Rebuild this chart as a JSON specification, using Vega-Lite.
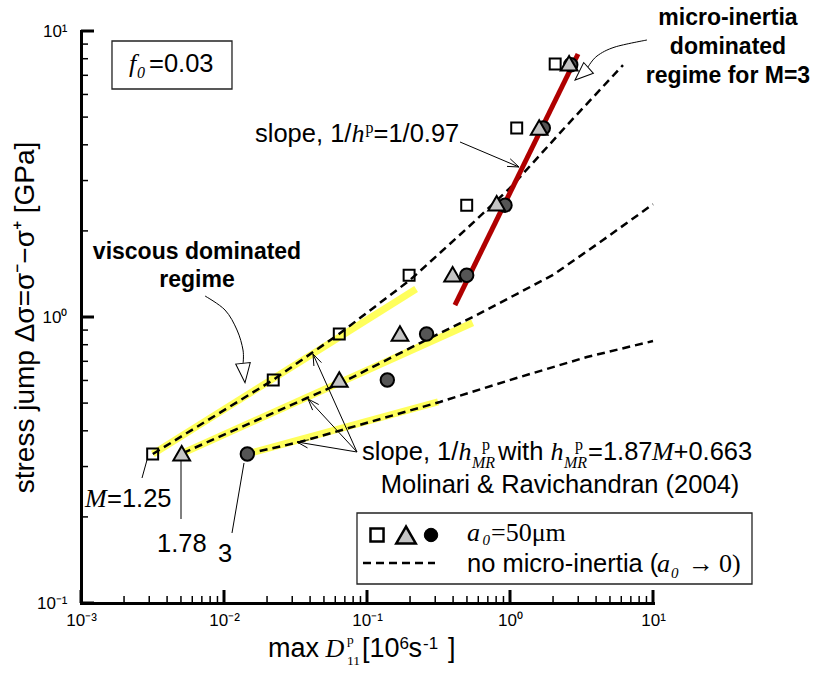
{
  "$schema": "https://vega.github.io/schema/vega-lite/v6.json",
  "width": 572,
  "height": 572,
  "autosize": {"type": "none"},
  "padding": {"left": 81, "top": 31, "right": 162, "bottom": 70},
  "background": "white",
  "config": {"view": {"stroke": null}},
  "resolve": {"axis": {"x": "independent", "y": "independent"}},
  "datasets": {
    "points": [
      {"M": "3", "x": 0.01456, "y": 0.332},
      {"M": "3", "x": 0.1387, "y": 0.602},
      {"M": "3", "x": 0.261, "y": 0.872},
      {"M": "3", "x": 0.498, "y": 1.40},
      {"M": "3", "x": 0.923, "y": 2.46},
      {"M": "3", "x": 1.71, "y": 4.58},
      {"M": "3", "x": 2.66, "y": 7.62},
      {"M": "1.78", "x": 0.00506, "y": 0.334},
      {"M": "1.78", "x": 0.064, "y": 0.605},
      {"M": "1.78", "x": 0.170, "y": 0.875},
      {"M": "1.78", "x": 0.397, "y": 1.41},
      {"M": "1.78", "x": 0.807, "y": 2.50},
      {"M": "1.78", "x": 1.60, "y": 4.60},
      {"M": "1.78", "x": 2.59, "y": 7.72},
      {"M": "1.25", "x": 0.00317, "y": 0.332},
      {"M": "1.25", "x": 0.0221, "y": 0.602},
      {"M": "1.25", "x": 0.064, "y": 0.872},
      {"M": "1.25", "x": 0.197, "y": 1.40},
      {"M": "1.25", "x": 0.498, "y": 2.46},
      {"M": "1.25", "x": 1.114, "y": 4.58},
      {"M": "1.25", "x": 2.07, "y": 7.67}
    ],
    "noMicro": [
      {"M": "1.25", "x": 0.00318, "y": 0.332},
      {"M": "1.25", "x": 0.022, "y": 0.602},
      {"M": "1.25", "x": 0.0637, "y": 0.872},
      {"M": "1.25", "x": 0.2, "y": 1.347},
      {"M": "1.25", "x": 0.498, "y": 2.036},
      {"M": "1.25", "x": 1.016, "y": 2.848},
      {"M": "1.25", "x": 2.51, "y": 4.69},
      {"M": "1.25", "x": 6.17, "y": 7.6},
      {"M": "1.78", "x": 0.00516, "y": 0.3345},
      {"M": "1.78", "x": 0.038, "y": 0.521},
      {"M": "1.78", "x": 0.0679, "y": 0.592},
      {"M": "1.78", "x": 0.235, "y": 0.811},
      {"M": "1.78", "x": 0.551, "y": 1.0},
      {"M": "1.78", "x": 2.0, "y": 1.403},
      {"M": "1.78", "x": 4.47, "y": 1.858},
      {"M": "1.78", "x": 10, "y": 2.48},
      {"M": "3", "x": 0.01449, "y": 0.332},
      {"M": "3", "x": 0.034, "y": 0.3656},
      {"M": "3", "x": 0.3236, "y": 0.5047},
      {"M": "3", "x": 1.175, "y": 0.617},
      {"M": "3", "x": 3.45, "y": 0.7246},
      {"M": "3", "x": 10, "y": 0.824}
    ],
    "yellow": [
      {"M": "1.25", "x": 0.00318, "y": 0.332},
      {"M": "1.25", "x": 0.2205, "y": 1.253},
      {"M": "1.78", "x": 0.00516, "y": 0.3345},
      {"M": "1.78", "x": 0.548, "y": 0.955},
      {"M": "3", "x": 0.01449, "y": 0.332},
      {"M": "3", "x": 0.314, "y": 0.505}
    ],
    "red": [
      {"x": 0.412, "y": 1.101},
      {"x": 2.99, "y": 8.31}
    ],
    "majorTicks": [
      {"x": 0.001, "x2": 0.001, "y": 0.1, "y2": 0.11103},
      {"x": 0.01, "x2": 0.01, "y": 0.1, "y2": 0.11103},
      {"x": 0.1, "x2": 0.1, "y": 0.1, "y2": 0.11103},
      {"x": 1, "x2": 1, "y": 0.1, "y2": 0.11103},
      {"x": 10, "x2": 10, "y": 0.1, "y2": 0.11103},
      {"x": 0.001, "x2": 0.0012328, "y": 0.1, "y2": 0.1},
      {"x": 0.001, "x2": 0.0012328, "y": 1, "y2": 1},
      {"x": 0.001, "x2": 0.0012328, "y": 10, "y2": 10}
    ],
    "minorTicks": [
      {"x": 0.002, "x2": 0.002, "y": 0.1, "y2": 0.1058},
      {"x": 0.003, "x2": 0.003, "y": 0.1, "y2": 0.1058},
      {"x": 0.004, "x2": 0.004, "y": 0.1, "y2": 0.1058},
      {"x": 0.005, "x2": 0.005, "y": 0.1, "y2": 0.1058},
      {"x": 0.006, "x2": 0.006, "y": 0.1, "y2": 0.1058},
      {"x": 0.007, "x2": 0.007, "y": 0.1, "y2": 0.1058},
      {"x": 0.008, "x2": 0.008, "y": 0.1, "y2": 0.1058},
      {"x": 0.009, "x2": 0.009, "y": 0.1, "y2": 0.1058},
      {"x": 0.02, "x2": 0.02, "y": 0.1, "y2": 0.1058},
      {"x": 0.03, "x2": 0.03, "y": 0.1, "y2": 0.1058},
      {"x": 0.04, "x2": 0.04, "y": 0.1, "y2": 0.1058},
      {"x": 0.05, "x2": 0.05, "y": 0.1, "y2": 0.1058},
      {"x": 0.06, "x2": 0.06, "y": 0.1, "y2": 0.1058},
      {"x": 0.07, "x2": 0.07, "y": 0.1, "y2": 0.1058},
      {"x": 0.08, "x2": 0.08, "y": 0.1, "y2": 0.1058},
      {"x": 0.09, "x2": 0.09, "y": 0.1, "y2": 0.1058},
      {"x": 0.2, "x2": 0.2, "y": 0.1, "y2": 0.1058},
      {"x": 0.3, "x2": 0.3, "y": 0.1, "y2": 0.1058},
      {"x": 0.4, "x2": 0.4, "y": 0.1, "y2": 0.1058},
      {"x": 0.5, "x2": 0.5, "y": 0.1, "y2": 0.1058},
      {"x": 0.6, "x2": 0.6, "y": 0.1, "y2": 0.1058},
      {"x": 0.7, "x2": 0.7, "y": 0.1, "y2": 0.1058},
      {"x": 0.8, "x2": 0.8, "y": 0.1, "y2": 0.1058},
      {"x": 0.9, "x2": 0.9, "y": 0.1, "y2": 0.1058},
      {"x": 2, "x2": 2, "y": 0.1, "y2": 0.1058},
      {"x": 3, "x2": 3, "y": 0.1, "y2": 0.1058},
      {"x": 4, "x2": 4, "y": 0.1, "y2": 0.1058},
      {"x": 5, "x2": 5, "y": 0.1, "y2": 0.1058},
      {"x": 6, "x2": 6, "y": 0.1, "y2": 0.1058},
      {"x": 7, "x2": 7, "y": 0.1, "y2": 0.1058},
      {"x": 8, "x2": 8, "y": 0.1, "y2": 0.1058},
      {"x": 9, "x2": 9, "y": 0.1, "y2": 0.1058},
      {"x": 0.001, "x2": 0.0011194, "y": 0.2, "y2": 0.2},
      {"x": 0.001, "x2": 0.0011194, "y": 0.3, "y2": 0.3},
      {"x": 0.001, "x2": 0.0011194, "y": 0.4, "y2": 0.4},
      {"x": 0.001, "x2": 0.0011194, "y": 0.5, "y2": 0.5},
      {"x": 0.001, "x2": 0.0011194, "y": 0.6, "y2": 0.6},
      {"x": 0.001, "x2": 0.0011194, "y": 0.7, "y2": 0.7},
      {"x": 0.001, "x2": 0.0011194, "y": 0.8, "y2": 0.8},
      {"x": 0.001, "x2": 0.0011194, "y": 0.9, "y2": 0.9},
      {"x": 0.001, "x2": 0.0011194, "y": 2, "y2": 2},
      {"x": 0.001, "x2": 0.0011194, "y": 3, "y2": 3},
      {"x": 0.001, "x2": 0.0011194, "y": 4, "y2": 4},
      {"x": 0.001, "x2": 0.0011194, "y": 5, "y2": 5},
      {"x": 0.001, "x2": 0.0011194, "y": 6, "y2": 6},
      {"x": 0.001, "x2": 0.0011194, "y": 7, "y2": 7},
      {"x": 0.001, "x2": 0.0011194, "y": 8, "y2": 8},
      {"x": 0.001, "x2": 0.0011194, "y": 9, "y2": 9}
    ],
    "leaders": [
      {"x": 0.44697, "y": 4.0916, "x2": 1.156, "y2": 3.3455},
      {"x": 1.156, "y": 3.3455, "x2": 1.0032, "y2": 3.5739},
      {"x": 1.156, "y": 3.3455, "x2": 0.95285, "y2": 3.3617},
      {"x": 0.085124, "y": 0.33727, "x2": 0.041913, "y2": 0.74238},
      {"x": 0.041913, "y": 0.74238, "x2": 0.042525, "y2": 0.67401},
      {"x": 0.041913, "y": 0.74238, "x2": 0.047998, "y2": 0.69272},
      {"x": 0.085124, "y": 0.33727, "x2": 0.038674, "y2": 0.51675},
      {"x": 0.038674, "y": 0.51675, "x2": 0.041644, "y2": 0.47258},
      {"x": 0.038674, "y": 0.51675, "x2": 0.045954, "y2": 0.49437},
      {"x": 0.085124, "y": 0.33727, "x2": 0.032393, "y2": 0.36556},
      {"x": 0.032393, "y": 0.36556, "x2": 0.038364, "y2": 0.3486},
      {"x": 0.032393, "y": 0.36556, "x2": 0.039176, "y2": 0.37209},
      {"x": 0.002671, "y": 0.27357, "x2": 0.002894, "y2": 0.31623},
      {"x": 0.005004, "y": 0.31623, "x2": 0.005004, "y2": 0.19666},
      {"x": 0.011373, "y": 0.1757, "x2": 0.013801, "y2": 0.30867}
    ],
    "arcs": [
      {"id": "micro", "i": 0, "x": 9.0781, "y": 9.301},
      {"id": "micro", "i": 1, "x": 5.4238, "y": 8.7912},
      {"id": "micro", "i": 2, "x": 4.059, "y": 8.1764},
      {"id": "micro", "i": 3, "x": 3.5117, "y": 7.4838},
      {"id": "viscous", "i": 0, "x": 0.007365, "y": 1.1842},
      {"id": "viscous", "i": 1, "x": 0.010162, "y": 1.058},
      {"id": "viscous", "i": 2, "x": 0.012328, "y": 0.90064},
      {"id": "viscous", "i": 3, "x": 0.013581, "y": 0.76668},
      {"id": "viscous", "i": 4, "x": 0.013581, "y": 0.68495}
    ],
    "headMicro": [{"x": 3.1775, "y": 7.0737}],
    "headViscous": [{"x": 0.013801, "y": 0.63708}],
    "boxes": [
      {"x": 0.001647, "x2": 0.011373, "y": 9.2267, "y2": 6.2693},
      {"x": 0.085124, "x2": 49.237, "y": 0.20639, "y2": 0.11654}
    ],
    "legendSymbols": [
      {"M": "1.25", "x": 0.1175, "y": 0.17289},
      {"M": "1.78", "x": 0.18742, "y": 0.17289},
      {"M": "3", "x": 0.28033, "y": 0.17289}
    ],
    "legendLine": [{"x": 0.093752, "x2": 0.29891, "y": 0.13799, "y2": 0.13799}],
    "textSans": [
      {"t": "slope, 1/", "x": 0.016474, "y": 4.0916},
      {"t": "=1/0.97", "x": 0.11103, "y": 4.0916},
      {"t": "slope, 1/", "x": 0.092252, "y": 0.31623},
      {"t": "with", "x": 0.82423, "y": 0.31623},
      {"t": "=1.87", "x": 3.5117, "y": 0.31623},
      {"t": "+0.663", "x": 13.911, "y": 0.31623},
      {"t": "no micro-inertia (", "x": 0.5004, "y": 0.12857},
      {"t": "=0.03", "x": 0.002989, "y": 7.1886},
      {"t": "=1.25", "x": 0.00152, "y": 0.2166},
      {"t": "1.78", "x": 0.003401, "y": 0.15078},
      {"t": "3", "x": 0.009078, "y": 0.13911}
    ],
    "textCenter": [
      {"t": "Molinari & Ravichandran (2004)", "x": 2.2372, "y": 0.24244}
    ],
    "textTitle": [
      {"t": "max", "x": 0.020325, "y": 0.064742},
      {"t": "[10", "x": 0.092252, "y": 0.064742},
      {"t": "s", "x": 0.19509, "y": 0.064742},
      {"t": "]", "x": 0.36853, "y": 0.064742}
    ],
    "textTitleSup": [
      {"t": "6", "x": 0.16876, "y": 0.069051},
      {"t": "-1", "x": 0.24638, "y": 0.069051}
    ],
    "textItalic": [
      {"t": "f", "x": 0.002167, "y": 7.1886},
      {"t": "h", "x": 0.077792, "y": 4.0916},
      {"t": "h", "x": 0.4357, "y": 0.31623},
      {"t": "h", "x": 1.9166, "y": 0.31623},
      {"t": "M", "x": 9.8404, "y": 0.31623},
      {"t": "M", "x": 0.001067, "y": 0.2166},
      {"t": "a", "x": 0.5004, "y": 0.16474},
      {"t": "a", "x": 10.665, "y": 0.12857},
      {"t": "D", "x": 0.051178, "y": 0.064742}
    ],
    "textItalicSmall": [
      {"t": "0", "x": 0.002464, "y": 6.8506},
      {"t": "MR", "x": 0.54233, "y": 0.29649},
      {"t": "MR", "x": 2.3858, "y": 0.29649}
    ],
    "textLegendSub": [
      {"t": "0", "x": 0.64183, "y": 0.15916},
      {"t": "0", "x": 13.367, "y": 0.12249}
    ],
    "textSerifSmall": [
      {"t": "p", "x": 0.097614, "y": 4.3993},
      {"t": "p", "x": 0.63706, "y": 0.34274},
      {"t": "p", "x": 2.848, "y": 0.34274}
    ],
    "textTitleSmall": [
      {"t": "p", "x": 0.07249, "y": 0.07189},
      {"t": "11", "x": 0.07249, "y": 0.060704}
    ],
    "textSerif": [
      {"t": "=50μm", "x": 0.73638, "y": 0.16474},
      {"t": "→", "x": 17.568, "y": 0.12857},
      {"t": "0)", "x": 28.943, "y": 0.12857}
    ],
    "textBold": [
      {"t": "micro-inertia", "x": 33.45, "y": 10.495},
      {"t": "dominated", "x": 33.45, "y": 8.3091},
      {"t": "regime for M=3", "x": 33.45, "y": 6.5793},
      {"t": "viscous dominated", "x": 0.006474, "y": 1.5951},
      {"t": "regime", "x": 0.006474, "y": 1.2732}
    ]
  },
  "encoding": {
    "x": {"field": "x", "type": "quantitative", "scale": {"type": "log", "domain": [0.001, 10], "nice": false}, "axis": null},
    "y": {"field": "y", "type": "quantitative", "scale": {"type": "log", "domain": [0.1, 10], "nice": false}, "axis": null}
  },
  "layer": [
    {
      "data": {"name": "yellow"},
      "mark": {"type": "line", "color": "#ffff5c", "strokeWidth": 7},
      "encoding": {
        "x": {
          "field": "x", "type": "quantitative",
          "scale": {"type": "log", "domain": [0.001, 10], "nice": false},
          "axis": {
            "orient": "bottom",
            "title": null,
            "values": [0.001, 0.01, 0.1, 1, 10],
            "labelExpr": "datum.value == 0.001 ? '10⁻³' : datum.value == 0.01 ? '10⁻²' : datum.value == 0.1 ? '10⁻¹' : datum.value == 1 ? '10⁰' : datum.value == 10 ? '10¹' : ''",
            "labelOverlap": false,
            "labelFlush": false,
            "labelFont": "Liberation Sans",
            "labelFontSize": 17,
            "labelColor": "black",
            "labelPadding": 9,
            "ticks": false,
            "domainColor": "black",
            "domainWidth": 3,
            "domainCap": "square",
            "grid": false
          }
        },
        "y": {
          "field": "y", "type": "quantitative",
          "scale": {"type": "log", "domain": [0.1, 10], "nice": false},
          "axis": {
            "orient": "left",
            "title": "stress jump Δσ=σ⁻−σ⁺ [GPa]",
            "titleFont": "Liberation Sans",
            "titleFontSize": 28,
            "titleFontWeight": "normal",
            "titleColor": "black",
            "titleX": -48,
            "titleY": 286,
            "titleAngle": -90,
            "titleAlign": "center",
            "titleBaseline": "alphabetic",
            "values": [0.1, 1, 10],
            "labelExpr": "datum.value == 0.1 ? '10⁻¹' : datum.value == 1 ? '10⁰' : datum.value == 10 ? '10¹' : ''",
            "labelOverlap": false,
            "labelFlush": false,
            "labelFont": "Liberation Sans",
            "labelFontSize": 17,
            "labelColor": "black",
            "labelPadding": 14,
            "ticks": false,
            "domainColor": "black",
            "domainWidth": 3,
            "domainCap": "square",
            "grid": false
          }
        },
        "detail": {"field": "M", "type": "nominal"}
      }
    },
    {
      "data": {"name": "majorTicks"},
      "mark": {"type": "rule", "color": "black", "strokeWidth": 3},
      "encoding": {"x2": {"field": "x2"}, "y2": {"field": "y2"}}
    },
    {
      "data": {"name": "minorTicks"},
      "mark": {"type": "rule", "color": "black", "strokeWidth": 1.5},
      "encoding": {"x2": {"field": "x2"}, "y2": {"field": "y2"}}
    },
    {
      "data": {"name": "noMicro"},
      "mark": {"type": "line", "color": "black", "strokeWidth": 2.5, "strokeDash": [8, 5]},
      "encoding": {"detail": {"field": "M", "type": "nominal"}}
    },
    {
      "data": {"name": "red"},
      "mark": {"type": "line", "color": "#b00000", "strokeWidth": 5},
      "encoding": {}
    },
    {
      "data": {"name": "points"},
      "transform": [{"filter": {"field": "M", "equal": "3"}}],
      "mark": {"type": "point", "shape": "circle", "filled": true, "fill": "#555555", "stroke": "black", "strokeWidth": 2, "size": 180, "opacity": 1}
    },
    {
      "data": {"name": "points"},
      "transform": [{"filter": {"field": "M", "equal": "1.78"}}],
      "mark": {"type": "point", "shape": "triangle-up", "filled": true, "fill": "#c4c4c4", "stroke": "black", "strokeWidth": 2, "size": 280, "opacity": 1}
    },
    {
      "data": {"name": "points"},
      "transform": [{"filter": {"field": "M", "equal": "1.25"}}],
      "mark": {"type": "point", "shape": "square", "filled": false, "color": "black", "strokeWidth": 2, "size": 120, "opacity": 1}
    },
    {
      "data": {"name": "leaders"},
      "mark": {"type": "rule", "color": "black", "strokeWidth": 1},
      "encoding": {"x2": {"field": "x2"}, "y2": {"field": "y2"}}
    },
    {
      "data": {"name": "arcs"},
      "mark": {"type": "line", "color": "black", "strokeWidth": 1, "interpolate": "cardinal"},
      "encoding": {"detail": {"field": "id", "type": "nominal"}, "order": {"field": "i", "type": "quantitative"}}
    },
    {
      "data": {"name": "headMicro"},
      "mark": {"type": "point", "shape": "M0,-1L0.8,1L-0.8,1Z", "filled": true, "fill": "white", "stroke": "black", "strokeWidth": 1, "size": 330, "angle": 228, "opacity": 1}
    },
    {
      "data": {"name": "headViscous"},
      "mark": {"type": "point", "shape": "M0,-1L0.75,1L-0.75,1Z", "filled": true, "fill": "white", "stroke": "black", "strokeWidth": 1, "size": 380, "angle": 174, "opacity": 1}
    },
    {
      "data": {"name": "boxes"},
      "mark": {"type": "rect", "fill": "white", "stroke": "#222222", "strokeWidth": 1.3},
      "encoding": {"x2": {"field": "x2"}, "y2": {"field": "y2"}}
    },
    {
      "data": {"name": "legendSymbols"},
      "transform": [{"filter": {"field": "M", "equal": "1.25"}}],
      "mark": {"type": "point", "shape": "square", "filled": false, "color": "black", "strokeWidth": 2.5, "size": 170, "opacity": 1}
    },
    {
      "data": {"name": "legendSymbols"},
      "transform": [{"filter": {"field": "M", "equal": "1.78"}}],
      "mark": {"type": "point", "shape": "triangle-up", "filled": true, "fill": "#c4c4c4", "stroke": "black", "strokeWidth": 2.5, "size": 380, "opacity": 1}
    },
    {
      "data": {"name": "legendSymbols"},
      "transform": [{"filter": {"field": "M", "equal": "3"}}],
      "mark": {"type": "point", "shape": "circle", "filled": true, "fill": "black", "stroke": "black", "strokeWidth": 1, "size": 180, "opacity": 1}
    },
    {
      "data": {"name": "legendLine"},
      "mark": {"type": "rule", "color": "black", "strokeWidth": 2.5, "strokeDash": [8, 5]},
      "encoding": {"x2": {"field": "x2"}, "y2": {"field": "y2"}}
    },
    {
      "data": {"name": "textSans"},
      "mark": {"type": "text", "align": "left", "baseline": "alphabetic", "font": "Liberation Sans", "fontSize": 25.5, "color": "black"},
      "encoding": {"text": {"field": "t"}}
    },
    {
      "data": {"name": "textCenter"},
      "mark": {"type": "text", "align": "center", "baseline": "alphabetic", "font": "Liberation Sans", "fontSize": 25.5, "color": "black"},
      "encoding": {"text": {"field": "t"}}
    },
    {
      "data": {"name": "textTitle"},
      "mark": {"type": "text", "align": "left", "baseline": "alphabetic", "font": "Liberation Sans", "fontSize": 27, "color": "black"},
      "encoding": {"text": {"field": "t"}}
    },
    {
      "data": {"name": "textTitleSup"},
      "mark": {"type": "text", "align": "left", "baseline": "alphabetic", "font": "Liberation Sans", "fontSize": 17, "color": "black"},
      "encoding": {"text": {"field": "t"}}
    },
    {
      "data": {"name": "textTitleSmall"},
      "mark": {"type": "text", "align": "left", "baseline": "alphabetic", "font": "Liberation Serif", "fontSize": 13.5, "color": "black"},
      "encoding": {"text": {"field": "t"}}
    },
    {
      "data": {"name": "textItalic"},
      "mark": {"type": "text", "align": "left", "baseline": "alphabetic", "font": "Liberation Serif", "fontStyle": "italic", "fontSize": 26, "color": "black"},
      "encoding": {"text": {"field": "t"}}
    },
    {
      "data": {"name": "textItalicSmall"},
      "mark": {"type": "text", "align": "left", "baseline": "alphabetic", "font": "Liberation Serif", "fontStyle": "italic", "fontSize": 16, "color": "black"},
      "encoding": {"text": {"field": "t"}}
    },
    {
      "data": {"name": "textLegendSub"},
      "mark": {"type": "text", "align": "left", "baseline": "alphabetic", "font": "Liberation Serif", "fontStyle": "italic", "fontSize": 15, "color": "black"},
      "encoding": {"text": {"field": "t"}}
    },
    {
      "data": {"name": "textSerifSmall"},
      "mark": {"type": "text", "align": "left", "baseline": "alphabetic", "font": "Liberation Serif", "fontSize": 16, "color": "black"},
      "encoding": {"text": {"field": "t"}}
    },
    {
      "data": {"name": "textSerif"},
      "mark": {"type": "text", "align": "left", "baseline": "alphabetic", "font": "Liberation Serif", "fontSize": 26, "color": "black"},
      "encoding": {"text": {"field": "t"}}
    },
    {
      "data": {"name": "textBold"},
      "mark": {"type": "text", "align": "center", "baseline": "alphabetic", "font": "Liberation Sans", "fontWeight": "bold", "fontSize": 23, "color": "black"},
      "encoding": {"text": {"field": "t"}}
    }
  ]
}
